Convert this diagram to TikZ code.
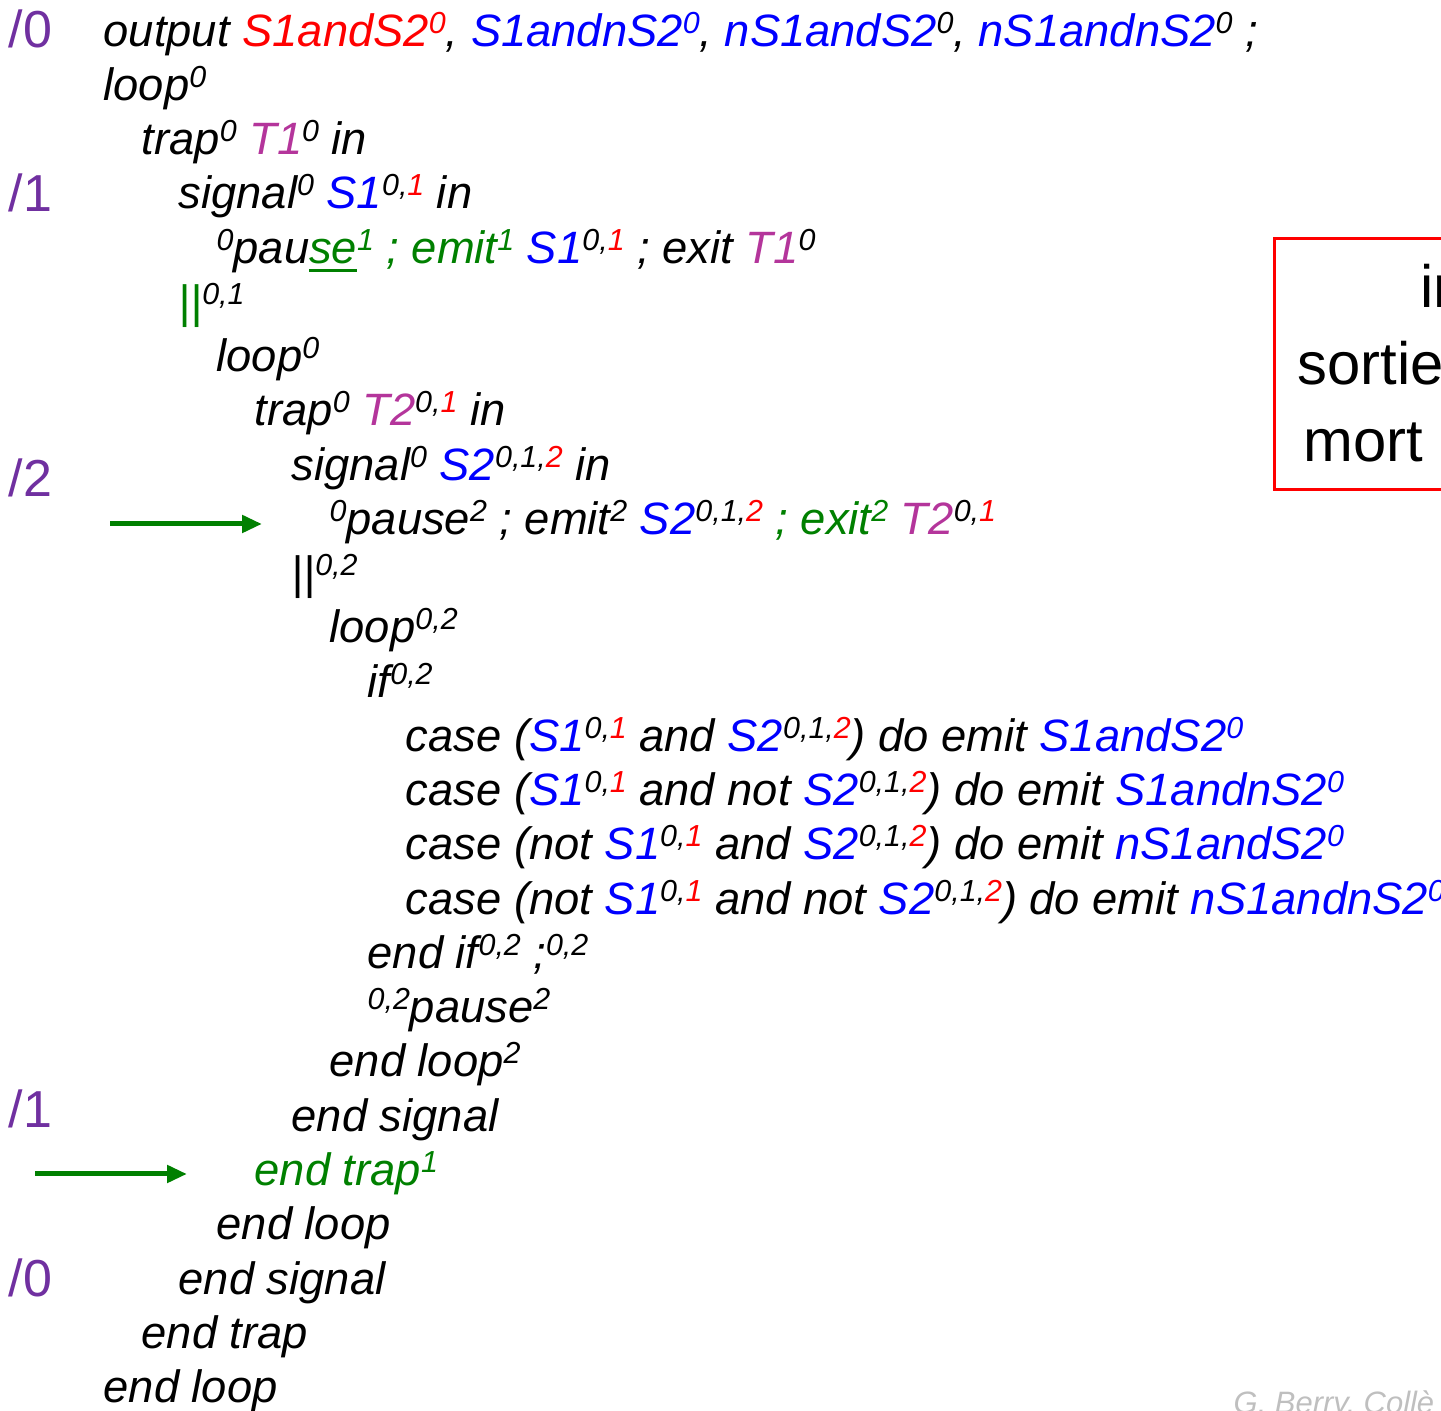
\documentclass[tikz,border=0pt]{standalone}
\usepackage{fontspec}
\setmainfont{Liberation Sans}
\usetikzlibrary{arrows.meta}
\definecolor{sig-blue}{HTML}{0000FF}
\definecolor{hot-red}{HTML}{FF0000}
\definecolor{go-green}{HTML}{008000}
\definecolor{trap-mauve}{HTML}{B4359B}
\definecolor{tick-purple}{HTML}{7030A0}
\definecolor{credit-grey}{HTML}{BFBFBF}

% small raised tags (pause / emit / exit depths)
\newcommand{\ssup}[1]{\raisebox{0.3em}{\fontsize{8.65}{9}\selectfont #1}}
\newcommand{\cred}[1]{\textcolor{hot-red}{#1}}
\newcommand{\cblue}[1]{\textcolor{sig-blue}{#1}}
\newcommand{\cmauve}[1]{\textcolor{trap-mauve}{#1}}
\newcommand{\cgreen}[1]{\textcolor{go-green}{#1}}
\newcommand{\SoneTag}{\cblue{S1}\ssup{0,\cred{1}}}
\newcommand{\StwoTag}{\cblue{S2}\ssup{0,1,\cred{2}}}
\newcommand{\greenul}[1]{\setbox0=\hbox{#1}\rlap{\rule[-0.18em]{\wd0}{0.07em}}\box0}

\begin{document}
\begin{tikzpicture}[
    x=0.1mm, y=-0.1mm,
    code/.style={anchor=base west, inner sep=0pt,
        font=\fontsize{12.9}{15}\selectfont\itshape},
    tick/.style={anchor=base west, inner sep=0pt, text=tick-purple,
        font=\fontsize{14.8}{17}\selectfont},
    jump/.style={-{Triangle[length=2.0mm, width=1.7mm]}, line width=0.5mm, go-green},
    note/.style={
        rectangle, draw=hot-red, line width=0.3mm,
        minimum width=22mm, minimum height=25.1mm,
        anchor=north west, inner sep=0pt,
    },
    notetext/.style={anchor=base west, inner sep=0pt,
        font=\fontsize{17}{20}\selectfont},
    credit/.style={anchor=base west, inner sep=0pt, text=credit-grey,
        font=\fontsize{8.8}{10}\selectfont\itshape},
]
\useasboundingbox (0,0) rectangle (1441,1411);
\clip (0,0) rectangle (1441,1411);

% =====================================================================
% PROGRAM TEXT — one node per line, indent step ~38px
% =====================================================================

\node[code] (l0)  at (103,47)   {output \cred{S1andS2\ssup{0}}, \cblue{S1andnS2\ssup{0}}, \cblue{nS1andS2}\ssup{0}, \cblue{nS1andnS2}\ssup{0} ;};
\node[code] (l1)  at (103,101)  {loop\ssup{0}};
\node[code] (l2)  at (141,155)  {trap\ssup{0} \cmauve{T1}\ssup{0} in};
\node[code] (l3)  at (178,209)  {signal\ssup{0} \SoneTag{} in};
\node[code] (l4)  at (216,264)  {\ssup{0}pau\cgreen{\greenul{se}\ssup{1} ; emit\ssup{1}} \SoneTag{} ; exit \cmauve{T1}\ssup{0}};
\node[code] (l5)  at (178,318)  {\cgreen{||}\ssup{0,1}};
\node[code] (l6)  at (216,372)  {loop\ssup{0}};
\node[code] (l7)  at (254,426)  {trap\ssup{0} \cmauve{T2}\ssup{0,\cred{1}} in};
\node[code] (l8)  at (291,481)  {signal\ssup{0} \StwoTag{} in};
\node[code] (l9)  at (329,535)  {\ssup{0}pause\ssup{2} ; emit\ssup{2} \StwoTag{} \cgreen{; exit\ssup{2}} \cmauve{T2}\ssup{0,\cred{1}}};
\node[code] (l10) at (291,589)  {||\ssup{0,2}};
\node[code] (l11) at (329,643)  {loop\ssup{0,2}};
\node[code] (l12) at (367,698)  {if\ssup{0,2}};
\node[code] (l13) at (405,752)  {case (\SoneTag{} and \StwoTag) do emit \cblue{S1andS2\ssup{0}}};
\node[code] (l14) at (405,806)  {case (\SoneTag{} and not \StwoTag) do emit \cblue{S1andnS2\ssup{0}}};
\node[code] (l15) at (405,860)  {case (not \SoneTag{} and \StwoTag) do emit \cblue{nS1andS2\ssup{0}}};
\node[code] (l16) at (405,915)  {case (not \SoneTag{} and not \StwoTag) do emit \cblue{nS1andnS2\ssup{0}}};
\node[code] (l17) at (367,969)  {end if\ssup{0,2} ;\ssup{0,2}};
\node[code] (l18) at (367,1023) {\ssup{0,2}pause\ssup{2}};
\node[code] (l19) at (329,1077) {end loop\ssup{2}};
\node[code] (l20) at (291,1132) {end signal};
\node[code] (l21) at (254,1186) {\cgreen{end trap\ssup{1}}};
\node[code] (l22) at (216,1240) {end loop};
\node[code] (l23) at (178,1295) {end signal};
\node[code] (l24) at (141,1349) {end trap};
\node[code] (l25) at (103,1403) {end loop};

% =====================================================================
% INSTANT MARKS in the left margin
% =====================================================================

\node[tick] (t0a) at (8,48)   {/0};
\node[tick] (t1a) at (8,212)  {/1};
\node[tick] (t2)  at (8,497)  {/2};
\node[tick] (t1b) at (8,1128) {/1};
\node[tick] (t0b) at (8,1297) {/0};

% =====================================================================
% GREEN ARROWS — current pause, trap exit
% =====================================================================

\coordinate (jumpA)    at (110,524);
\coordinate (jumpAend) at (262,524);
\draw[jump] (jumpA) -- (jumpAend);

\coordinate (jumpB)    at (35,1174);
\coordinate (jumpBend) at (187,1174);
\draw[jump] (jumpB) -- (jumpBend);

% =====================================================================
% RED NOTE BOX (runs off the right edge)
% =====================================================================

\node[note] (box) at (1273,237) {};
\node[notetext] (n1) at (1420,308) {in};
\node[notetext] (n2) at (1297,385) {sortie};
\node[notetext] (n3) at (1303,462) {mort};

\node[credit] (who) at (1233,1414) {G. Berry, Collè};

\end{tikzpicture}
\end{document}
